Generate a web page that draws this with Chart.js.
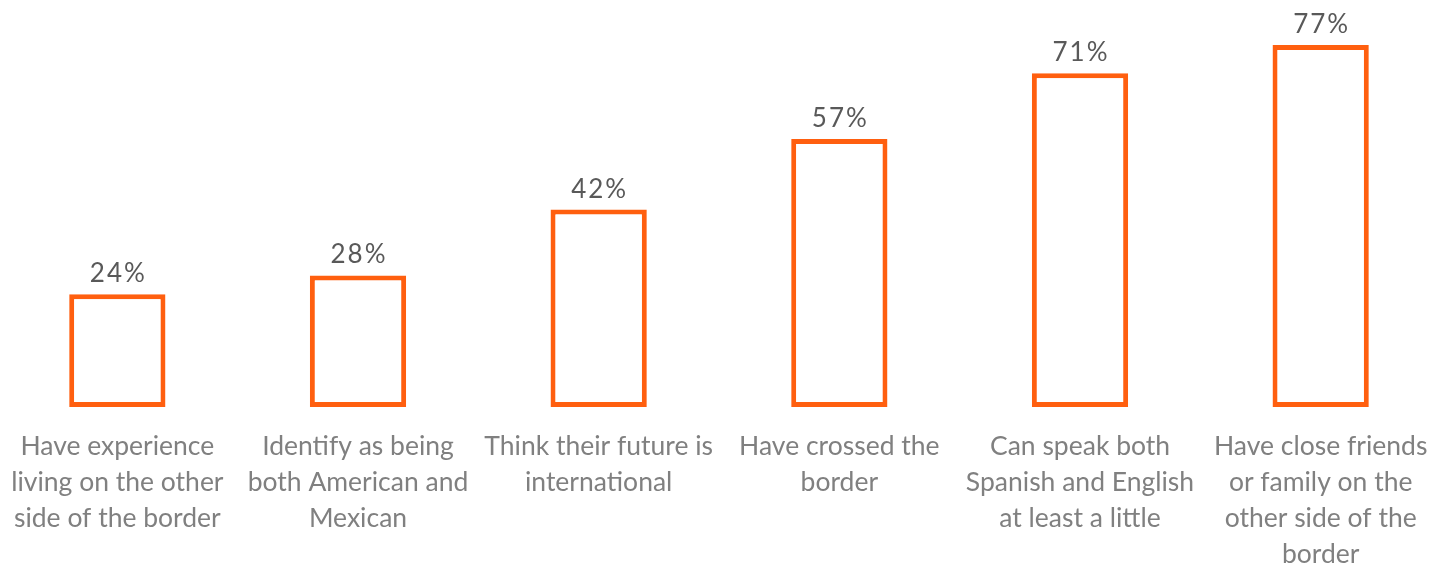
<!DOCTYPE html>
<html><head><meta charset="utf-8">
<script src="https://cdn.jsdelivr.net/npm/chart.js@4.4.1/dist/chart.umd.min.js"></script>
<style>
html,body{margin:0;padding:0;background:#fff;overflow:hidden;}
#wrap{position:absolute;left:-3px;top:0;width:1444px;height:563px;}
</style></head><body>
<div id="wrap"><canvas id="c" width="1444" height="563"></canvas></div>
<script>
const categories = [
  ["Have experience","living on the other","side of the border"],
  ["Identify as being","both American and","Mexican"],
  ["Think their future is","international"],
  ["Have crossed the","border"],
  ["Can speak both","Spanish and English","at least a little"],
  ["Have close friends","or family on the","other side of the","border"]
];
const values = [24, 28, 42, 57, 71, 77];
const valueLabels = ["24%","28%","42%","57%","71%","77%"];

const valuePlugin = {
  id:'valueLabels',
  afterDatasetsDraw(chart){
    const ctx = chart.ctx;
    const meta = chart.getDatasetMeta(0);
    ctx.save();
    ctx.fillStyle = '#595959';
    ctx.font = '26px Lato';
    try { ctx.letterSpacing = '2px'; } catch(e) {}
    ctx.textAlign = 'center';
    ctx.textBaseline = 'alphabetic';
    meta.data.forEach((bar,i)=>{
      ctx.fillText(valueLabels[i], bar.x + 1, bar.y - 12);
    });
    ctx.restore();
  }
};

new Chart(document.getElementById('c'), {
  type:'bar',
  data:{ labels: categories, datasets:[{
    data: values,
    backgroundColor:'#ffffff',
    borderColor:'#FF5F0F',
    borderWidth:5,
    borderSkipped:false,
    barPercentage:0.8,
    categoryPercentage:0.5
  }]},
  options:{
    responsive:false, animation:false,
    layout:{padding:{top:31,left:0,right:0,bottom:0}},
    plugins:{legend:{display:false}, tooltip:{enabled:false}},
    scales:{
      x:{
        grid:{display:false, drawTicks:false},
        border:{display:false},
        ticks:{color:'#808080', font:{family:'Lato', size:26.5, lineHeight:1.36}, padding:21, maxRotation:0, minRotation:0, autoSkip:false},
        afterFit(s){ s.height = 156; s.paddingLeft = 0; s.paddingRight = 0; }
      },
      y:{display:false, min:0, max:80}
    }
  },
  plugins:[valuePlugin]
});
</script>
</body></html>
